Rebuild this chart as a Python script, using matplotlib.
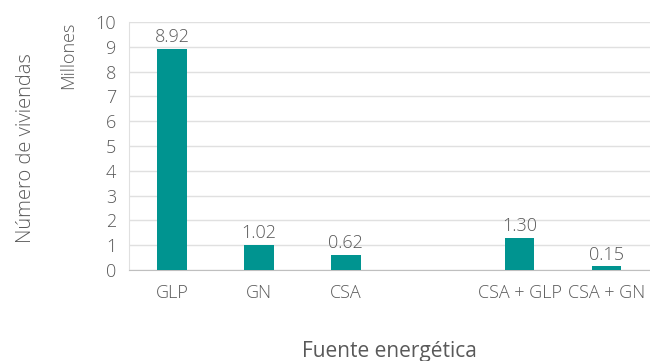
import matplotlib
matplotlib.use("Agg")
import matplotlib.pyplot as plt

categories = ["GLP", "GN", "CSA", "", "CSA + GLP", "CSA + GN"]
values = [8.92, 1.02, 0.62, None, 1.30, 0.15]
yticks = list(range(0, 11))

bar_color = "#009490"
text_color = "#595959"
grid_color = "#e0e0e0"

plt.rcParams["font.family"] = ["Open Sans", "DejaVu Sans"]
plt.rcParams["font.weight"] = "light"

fig = plt.figure(figsize=(6.5, 3.61), dpi=100)
ax = fig.add_axes([0.198, 0.252, 0.802, 0.687])

xs = [i for i, v in enumerate(values) if v is not None]
vs = [v for v in values if v is not None]
ax.bar(xs, vs, width=0.34, color=bar_color, zorder=3)
for x, v in zip(xs, vs):
    ax.text(x, v + 0.1, f"{v:.2f}", ha="center", va="bottom",
            fontsize=13, color=text_color)

ax.set_xlim(-0.5, len(categories) - 0.5)
ax.set_ylim(0, 10)
ax.set_yticks(yticks)
ax.set_xticks(range(len(categories)))
ax.set_xticklabels(categories)
ax.tick_params(axis="both", length=0, labelsize=13, colors=text_color)
ax.tick_params(axis="x", pad=10)
ax.tick_params(axis="y", pad=9)
ax.grid(axis="y", color=grid_color, linewidth=1, zorder=0)
for s in ["top", "right"]:
    ax.spines[s].set_visible(False)
ax.spines["left"].set_color(grid_color)
ax.spines["bottom"].set_color("#bfbfbf")

ax.set_xlabel("Fuente energética", fontsize=15, color=text_color, labelpad=28)
fig.text(0.04, 0.59, "Número de viviendas", rotation=90, ha="center",
         va="center", fontsize=14.5, color=text_color)
fig.text(0.105, 0.848, "Millones", rotation=90, ha="center", va="center",
         fontsize=13, color=text_color)

fig.savefig("out.png", dpi=100)
